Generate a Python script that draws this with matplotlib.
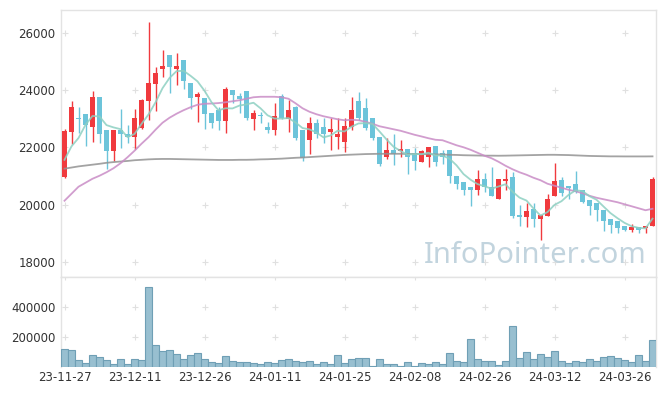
import matplotlib
matplotlib.use("Agg")
import matplotlib.pyplot as plt
import numpy as np

# ---------------- data ----------------
tick_labels = ["23-11-27", "23-12-11", "23-12-26", "24-01-11", "24-01-25",
               "24-02-08", "24-02-26", "24-03-12", "24-03-26"]

opens = [20970, 22550, 23030, 23165, 22730, 23760, 22600, 21890, 22610, 22480,
         22380, 22690, 23630, 24220, 24740, 25220, 24750, 25040, 24250, 23765,
         23720, 23190, 23300, 22920, 24000, 23790, 23980, 22990, 23110, 22700,
         22610, 23790, 22990, 23420, 22610, 22260, 22870, 22725, 22550, 22380,
         22200, 22725, 23630, 23385, 23040, 22380, 21680, 21910, 21880, 21950,
         21800, 21510, 21680, 22050, 21820, 21910, 21010, 20780, 20620, 20500,
         20890, 20620, 20200, 20845, 20985, 19640, 19570, 19850, 19510, 19620,
         20290, 20870, 20660, 20730, 20520, 20170, 20060, 19830, 19500, 19420,
         19250, 19110, 19220, 19190, 19250]
highs = [22650, 23620, 23400, 23170, 23990, 23780, 22600, 22600, 23360, 22780,
         23340, 23700, 26400, 24810, 25390, 25220, 25300, 25040, 24260, 23950,
         23720, 23190, 23430, 24120, 24000, 23900, 23980, 23300, 23245, 22900,
         23545, 23860, 23650, 23450, 22610, 23070, 23000, 23020, 23020, 23020,
         23020, 23770, 23950, 23735, 23040, 22380, 22340, 22460, 22260, 21950,
         21970, 21900, 22030, 22050, 21910, 21910, 21010, 20780, 20620, 21220,
         21120, 21310, 20900, 21240, 21160, 20000, 20060, 20060, 19650, 20380,
         21450, 20960, 20660, 21180, 20530, 20170, 20060, 19830, 19500, 19420,
         19250, 19330, 19220, 19270, 20960]
lows = [20950, 22110, 22500, 22050, 22180, 22160, 21240, 21540, 21970, 22150,
        21940, 22650, 22960, 23280, 24460, 23900, 24200, 24050, 23330, 22900,
        22650, 22680, 22610, 22520, 23565, 23190, 22960, 22610, 22840, 22500,
        22440, 22980, 22550, 22260, 21530, 21760, 22320, 22145, 21910, 21935,
        21855, 22610, 22960, 22610, 22260, 21360, 21600, 21390, 21680, 21070,
        21220, 21480, 21330, 21370, 21415, 20750, 20550, 20350, 19965, 20350,
        20430, 20290, 20190, 20520, 19540, 19245, 19220, 19220, 18780, 19600,
        20290, 20290, 20200, 20400, 20050, 19650, 19420, 19070, 19010, 19010,
        19100, 19050, 19010, 19010, 19250]
closes = [22570, 23400, 23000, 22780, 23760, 22480, 21890, 22600, 22480, 22370,
          23020, 23650, 24250, 24590, 24840, 24810, 24840, 24320, 23720, 23860,
          23170, 22840, 22920, 24060, 23830, 23680, 23040, 23210, 23090, 22610,
          23100, 23040, 23300, 22320, 21640, 22870, 22470, 22470, 22640, 22470,
          22750, 23300, 23040, 22690, 22340, 21430, 21910, 21770, 21950, 21680,
          21540, 21880, 22030, 21480, 21660, 20990, 20730, 20500, 20500, 20890,
          20620, 20290, 20890, 20890, 19600, 19580, 19770, 19510, 19650, 20210,
          20840, 20410, 20600, 20460, 20080, 19940, 19800, 19420, 19300, 19190,
          19130, 19220, 19130, 19270, 20890]
volumes = [120000, 113000, 48000, 26000, 79000, 66000, 48000, 22000, 52000, 22000,
           52000, 48000, 533000, 144000, 105000, 111000, 85000, 52000, 79000, 92000,
           52000, 35000, 26000, 72000, 41000, 33000, 33000, 26000, 20000, 33000,
           26000, 48000, 52000, 41000, 33000, 41000, 20000, 33000, 20000, 79000,
           26000, 52000, 57000, 57000, 6000, 52000, 20000, 20000, 5000, 33000,
           5000, 26000, 20000, 33000, 20000, 92000, 39000, 33000, 190000, 52000,
           39000, 39000, 13000, 39000, 275000, 57000, 98000, 52000, 85000, 66000,
           105000, 39000, 26000, 39000, 33000, 52000, 39000, 66000, 72000, 57000,
           46000, 33000, 79000, 39000, 177000]
ma5 = [21570, 22040, 22330, 22790, 23102, 23084, 22782, 22702, 22642, 22364,
       22472, 22824, 23154, 23576, 24070, 24428, 24666, 24680, 24506, 24310,
       23982, 23582, 23302, 23370, 23364, 23466, 23506, 23564, 23370, 23126,
       23010, 23010, 23028, 22874, 22680, 22634, 22520, 22354, 22418, 22584,
       22560, 22726, 22840, 22850, 22824, 22560, 22282, 22028, 21880, 21748,
       21770, 21764, 21816, 21722, 21718, 21608, 21378, 21072, 20876, 20722,
       20648, 20560, 20638, 20716, 20458, 20250, 20146, 19870, 19622, 19744,
       19996, 20124, 20342, 20504, 20478, 20298, 20176, 19940, 19708, 19530,
       19368, 19252, 19194, 19174, 19514]
ma20 = [20140, 20384, 20629, 20768, 20908, 21013, 21135, 21275, 21450, 21659,
        21886, 22131, 22358, 22620, 22864, 23039, 23179, 23301, 23406, 23493,
        23528, 23535, 23552, 23580, 23615, 23650, 23703, 23755, 23772, 23772,
        23772, 23755, 23703, 23545, 23371, 23248, 23161, 23091, 23039, 22987,
        22952, 22969, 22952, 22899, 22829, 22742, 22690, 22637, 22585, 22515,
        22445, 22386, 22323, 22270, 22253, 22166, 22078, 22008, 21921, 21816,
        21712, 21625, 21502, 21362, 21240, 21135, 21048, 20943, 20856, 20734,
        20664, 20594, 20524, 20472, 20402, 20314, 20245, 20192, 20140, 20087,
        20017, 19948, 19878, 19808, 19860]
ma60 = [21260, 21300, 21340, 21370, 21400, 21430, 21465, 21490, 21510, 21530,
        21555, 21570, 21585, 21595, 21600, 21600, 21595, 21590, 21585, 21580,
        21575, 21570, 21565, 21565, 21565, 21570, 21570, 21575, 21585, 21590,
        21600, 21610, 21625, 21640, 21650, 21665, 21680, 21695, 21710, 21725,
        21740, 21750, 21760, 21770, 21775, 21780, 21780, 21780, 21780, 21775,
        21775, 21770, 21765, 21760, 21755, 21745, 21740, 21730, 21725, 21720,
        21715, 21715, 21712, 21715, 21720, 21725, 21730, 21735, 21740, 21745,
        21745, 21740, 21735, 21725, 21715, 21705, 21700, 21695, 21690, 21690,
        21688, 21688, 21688, 21688, 21690]

price_ticks = [18000, 20000, 22000, 24000, 26000]
volume_ticks = [200000, 400000]

# ---------------- style ----------------
UP = "#f03a3e"
DOWN = "#6cc4da"
GRID = "#e0e0e0"
SPINE = "#e3e3e3"
TXT = "#333333"

W, H = 665, 396
fig = plt.figure(figsize=(W / 100, H / 100), dpi=100)
fig.patch.set_facecolor("white")
left, right = 61, 656
main_top, main_bot = 10, 277
vol_bot = 367
ax = fig.add_axes([left / W, 1 - main_bot / H, (right - left) / W, (main_bot - main_top) / H])
axv = fig.add_axes([left / W, 1 - vol_bot / H, (right - left) / W, (vol_bot - main_bot) / H], sharex=ax)

n = len(closes)
x = np.arange(n)
O = np.array(opens, float)
C = np.array(closes, float)
Hh = np.array(highs, float)
Ll = np.array(lows, float)
cols = [UP if c >= o else DOWN for o, c in zip(O, C)]

ax.vlines(x, Ll, Hh, colors=cols, linewidth=1.0, zorder=3)
ax.bar(x, np.maximum(np.abs(C - O), 40), bottom=np.minimum(O, C), width=0.72,
       color=cols, linewidth=0, zorder=3)

ax.plot(x, ma60, color="#939393", lw=1.3, alpha=0.85, zorder=4)
ax.plot(x, ma20, color="#c98cc6", lw=1.3, alpha=0.85, zorder=4)
ax.plot(x, ma5, color="#8dd0c2", lw=1.3, alpha=0.85, zorder=4)

axv.bar(x, volumes, width=1.0, color="#98bfd0", edgecolor="#6f9fb5", linewidth=0.8, zorder=3)

xt = list(range(0, n, 10))[:len(tick_labels)]

ax.set_xlim(-0.5, n - 0.5)
ax.set_ylim(17476, 26803)
axv.set_ylim(0, 600000)

# plus-shaped grid marks at the grid intersections
for xi in xt:
    for yi in price_ticks:
        ax.plot(xi, yi, marker="+", color=GRID, ms=4, mew=0.8, zorder=1)
    for yi in volume_ticks + [600000]:
        axv.plot(xi, yi, marker="+", color=GRID, ms=4, mew=0.8, zorder=1)

ax.set_yticks(price_ticks)
ax.set_yticklabels([str(v) for v in price_ticks])
axv.set_yticks(volume_ticks)
axv.set_yticklabels([str(v) for v in volume_ticks])
axv.set_xticks(xt)
axv.set_xticklabels(tick_labels)
ax.tick_params(axis="x", labelbottom=False, length=0)
ax.tick_params(axis="y", length=0, labelsize=8.5, colors=TXT, pad=4)
axv.tick_params(axis="both", length=0, labelsize=8.5, colors=TXT)
axv.tick_params(axis="y", pad=4)
axv.tick_params(axis="x", pad=3)

for a in (ax, axv):
    for s in a.spines.values():
        s.set_color(SPINE)
        s.set_linewidth(1.0)
axv.spines["bottom"].set_visible(False)

ax.text(0.985, 0.025, "InfoPointer.com", transform=ax.transAxes, ha="right", va="bottom",
        fontsize=21, color="#c2d4de", family="Noto Sans", zorder=2)

fig.savefig("out.png", dpi=100, facecolor="white")
